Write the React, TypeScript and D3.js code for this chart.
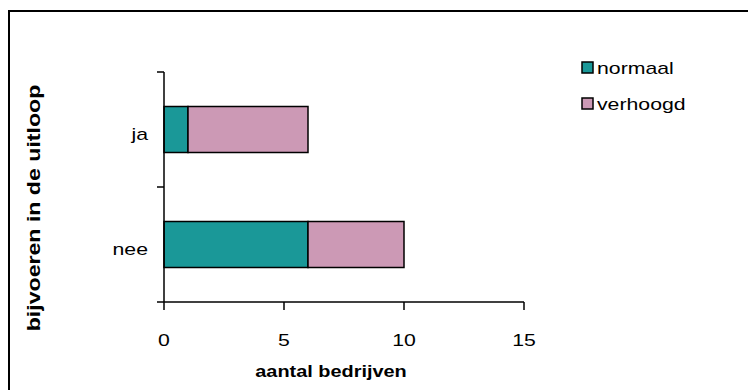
import React from "react";
import * as d3 from "d3";

const categories = ["ja", "nee"];
const seriesNames = ["normaal", "verhoogd"];
const normaal = [1, 6];
const verhoogd = [5, 4];
const xTicks = [0, 5, 10, 15];
const xTitle = "aantal bedrijven";
const yTitle = "bijvoeren in de uitloop";
const colors = ["#1a9898", "#cc99b5"];

const FONT = "'Liberation Sans', Arial, sans-serif";

function SText(props: {
  x: number;
  y: number;
  anchor?: string;
  size?: number;
  bold?: boolean;
  rotate?: number;
  sx?: number;
  children: React.ReactNode;
}) {
  const { x, y, anchor = "start", size = 17, bold = false, rotate = 0, sx = 1.25, children } = props;
  return (
    <text
      transform={`translate(${x},${y}) rotate(${rotate}) scale(${sx},1)`}
      textAnchor={anchor}
      fontFamily={FONT}
      fontSize={size}
      fontWeight={bold ? "bold" : "normal"}
      fill="#000"
    >
      {children}
    </text>
  );
}

export default function App() {
  const W = 748;
  const H = 390;
  const x = d3.scaleLinear().domain([0, 15]).range([164, 524]);
  const y = d3
    .scaleBand<string>()
    .domain(categories)
    .range([72, 302])
    .paddingInner(0.6)
    .paddingOuter(0.3);

  const stack = d3
    .stack<{ cat: string; normaal: number; verhoogd: number }>()
    .keys(seriesNames);
  const stacked = stack(
    categories.map((c, i) => ({ cat: c, normaal: normaal[i], verhoogd: verhoogd[i] }))
  );

  const x0 = x(0);
  const yTop = 72;
  const yBot = 302;
  const step = y.step();
  const catBoundaries = [0, 1, 2].map((i) => yTop + i * step);

  return (
    <svg
      width={W}
      height={H}
      style={{ position: "absolute", left: 0, top: 0, background: "#fff" }}
    >
      <rect x={0} y={0} width={W} height={H} fill="#fff" />
      <rect x={9} y={11} width={800} height={400} fill="none" stroke="#000" strokeWidth={2} />

      {stacked.map((s, si) =>
        s.map((d, di) => (
          <rect
            key={`${si}-${di}`}
            x={x(d[0])}
            y={y(d.data.cat)!}
            width={x(d[1]) - x(d[0])}
            height={y.bandwidth()}
            fill={colors[si]}
            stroke="#000"
            strokeWidth={1.5}
          />
        ))
      )}

      <line x1={x0} x2={x0} y1={yTop} y2={yBot} stroke="#000" strokeWidth={1.5} />
      {catBoundaries.map((b, i) => (
        <line key={i} x1={x0 - 7} x2={x0} y1={b} y2={b} stroke="#000" strokeWidth={1.5} />
      ))}
      <line x1={x0} x2={x(15)} y1={yBot} y2={yBot} stroke="#000" strokeWidth={1.5} />
      {xTicks.map((t) => (
        <g key={t}>
          <line x1={x(t)} x2={x(t)} y1={yBot} y2={yBot + 8} stroke="#000" strokeWidth={1.5} />
          <SText x={x(t)} y={346} anchor="middle">
            {t}
          </SText>
        </g>
      ))}

      {categories.map((c) => (
        <SText key={c} x={148} y={y(c)! + y.bandwidth() / 2 + 10} anchor="end">
          {c}
        </SText>
      ))}

      <SText x={331} y={377} anchor="middle" size={17} bold sx={1.17}>
        {xTitle}
      </SText>
      <SText x={40} y={208} anchor="middle" size={18.5} bold rotate={-90}>
        {yTitle}
      </SText>

      {seriesNames.map((n, i) => (
        <g key={n}>
          <rect
            x={582}
            y={62 + i * 36}
            width={11}
            height={11}
            fill={colors[i]}
            stroke="#000"
            strokeWidth={1.5}
          />
          <SText x={597} y={74 + i * 36}>
            {n}
          </SText>
        </g>
      ))}
    </svg>
  );
}
